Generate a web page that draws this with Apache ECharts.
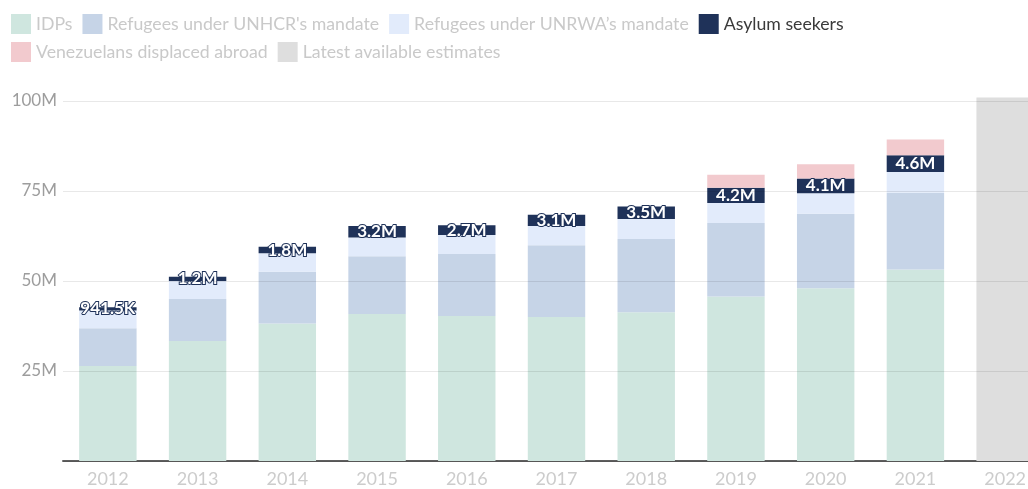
<!DOCTYPE html>
<html>
<head>
<meta charset="utf-8">
<script src="https://cdn.jsdelivr.net/npm/echarts@6/dist/echarts.min.js"></script>
<style>
  html, body { margin: 0; padding: 0; background: #fff; }
  #chart { width: 1028px; height: 489px; }
</style>
</head>
<body>
<div id="chart"></div>
<script>
// values in millions of people
const years = ['2012', '2013', '2014', '2015', '2016', '2017', '2018', '2019', '2020', '2021', '2022'];
const idps = [26.4, 33.3, 38.2, 40.8, 40.3, 40.0, 41.3, 45.7, 48.0, 53.2, '-'];
const refUnhcr = [10.5, 11.7, 14.4, 16.1, 17.2, 19.9, 20.4, 20.4, 20.7, 21.3, '-'];
const refUnrwa = [4.9, 5.0, 5.1, 5.2, 5.3, 5.4, 5.5, 5.6, 5.7, 5.8, '-'];
const asylum = [0.9415, 1.2, 1.8, 3.2, 2.7, 3.1, 3.5, 4.2, 4.1, 4.6, '-'];
const venezuelans = ['-', '-', '-', '-', '-', '-', '-', 3.6, 3.9, 4.4, '-'];
const latest = ['-', '-', '-', '-', '-', '-', '-', '-', '-', '-', 101];
const yTicks = [0, 25, 50, 75, 100];

const names = ['IDPs', "Refugees under UNHCR's mandate", 'Refugees under UNRWA\u2019s mandate',
  'Asylum seekers', 'Venezuelans displaced abroad', 'Latest available estimates'];
const colors = ['#cfe6df', '#c6d4e7', '#e2ebfb', '#1f3259', '#f2cace', '#dedede'];

const fmt = v => v < 1 ? (v * 1000).toFixed(1) + 'K' : v.toFixed(1) + 'M';

const dim = '#c9c9c9';
const legendItem = (n) => ({
  name: n,
  textStyle: { color: n === 'Asylum seekers' ? '#3a3a3a' : dim }
});

const chart = echarts.init(document.getElementById('chart'));

const seriesData = [idps, refUnhcr, refUnrwa, asylum, venezuelans, latest];
const series = seriesData.map((d, i) => ({
  name: names[i],
  type: 'bar',
  stack: 'total',
  data: d,
  clip: false,
  barCategoryGap: '36%',
  itemStyle: { color: colors[i] },
  label: i === 3 ? {
    show: true,
    position: 'inside',
    formatter: p => fmt(p.value),
    color: '#fff',
    fontFamily: 'Lato',
    fontWeight: 'bold',
    fontSize: 17,
    textBorderColor: '#1f3259',
    textBorderWidth: 2
  } : { show: false },
  emphasis: { disabled: true }
}));

const legendBase = {
  left: 6,
  itemWidth: 20, itemHeight: 20, itemGap: 10,
  icon: 'rect',
  selectedMode: false,
  textStyle: { fontSize: 17.7, fontFamily: 'Lato' }
};

chart.setOption({
  animation: false,
  color: colors,
  textStyle: { fontFamily: 'Lato' },
  legend: [
    Object.assign({ data: names.slice(0, 4).map(legendItem), top: 9 }, legendBase),
    Object.assign({ data: names.slice(4).map(legendItem), top: 37 }, legendBase)
  ],
  grid: { left: 63, width: 987, top: 101, bottom: 28, containLabel: false, outerBoundsMode: 'none' },
  xAxis: {
    type: 'category',
    data: years,
    axisLine: { lineStyle: { color: '#5f5f5f', width: 2 } },
    axisTick: { show: false },
    axisLabel: { color: '#cccccc', fontSize: 18, fontFamily: 'Lato', margin: 9 }
  },
  yAxis: {
    type: 'value',
    min: yTicks[0],
    max: yTicks[yTicks.length - 1],
    interval: 25,
    z: 3,
    axisLine: { show: false },
    axisTick: { show: false },
    axisLabel: {
      color: '#9d9d9d', fontSize: 17, fontFamily: 'Lato', margin: 6,
      formatter: v => v === 0 ? '' : v + 'M'
    },
    splitLine: { lineStyle: { color: 'rgba(0,0,0,0.09)', width: 1 } }
  },
  series: series
});
</script>
</body>
</html>
